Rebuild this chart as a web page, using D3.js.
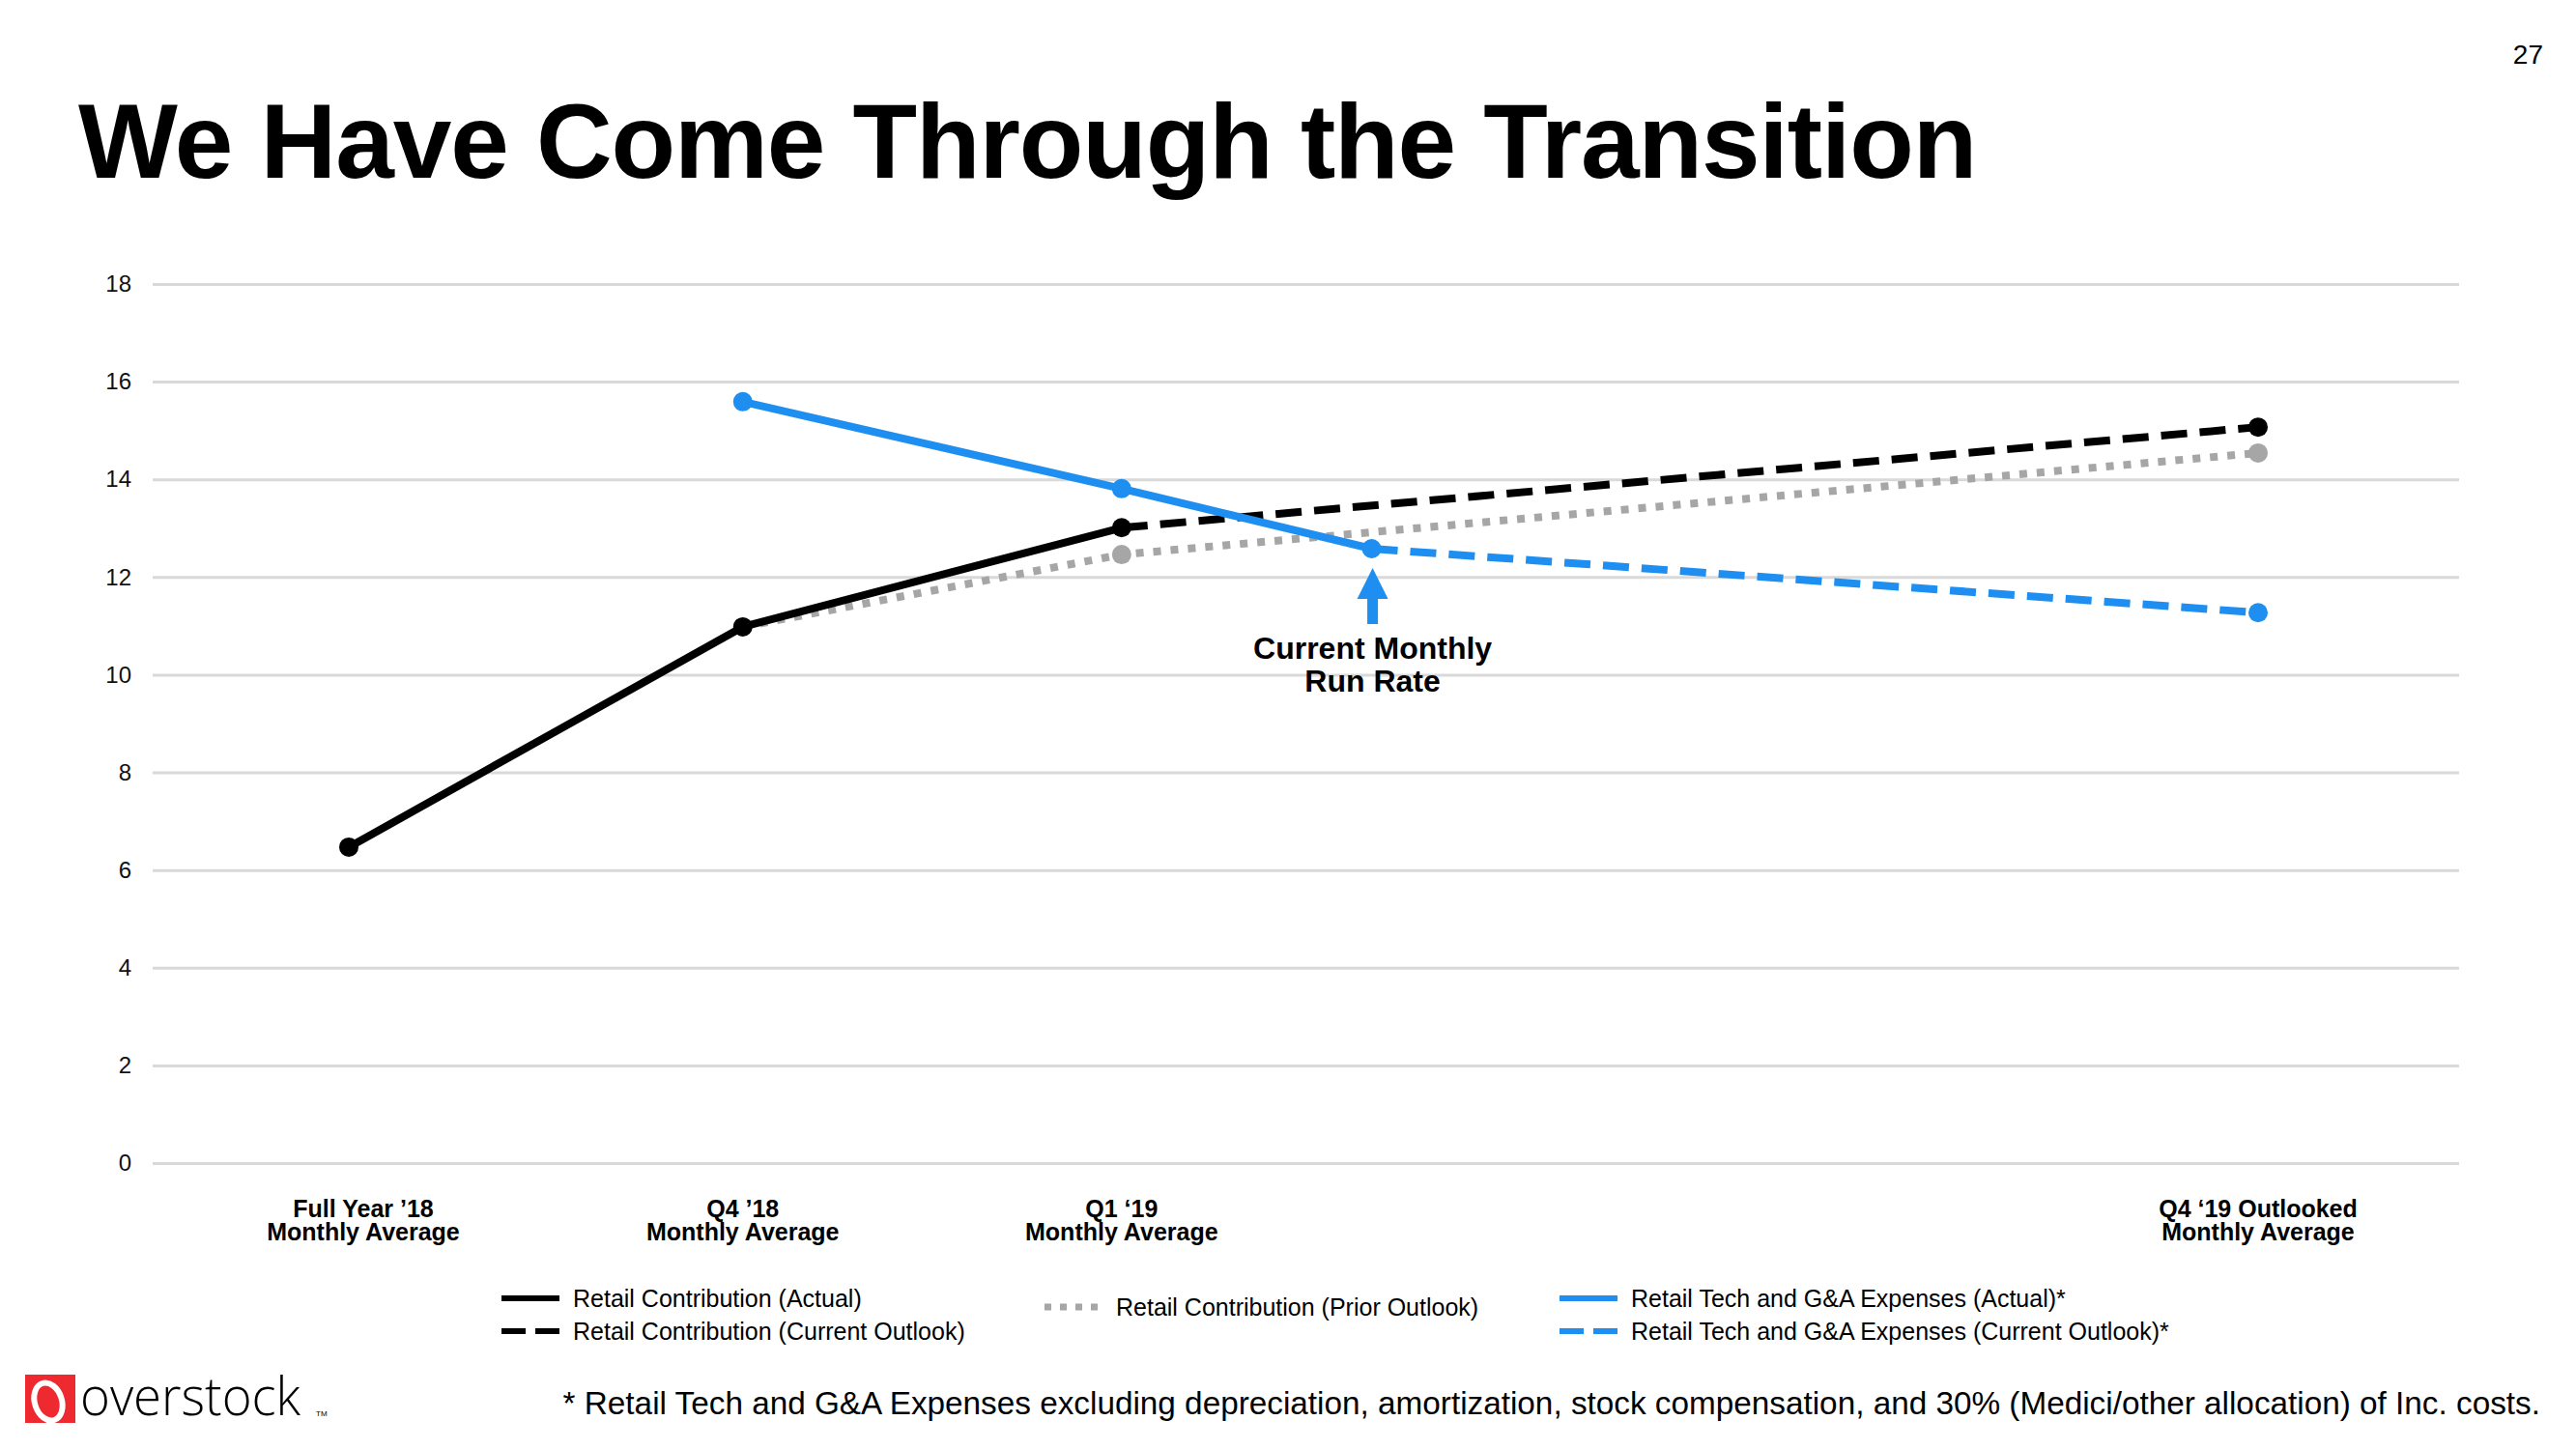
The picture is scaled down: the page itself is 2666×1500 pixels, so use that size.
<!DOCTYPE html>
<html>
<head>
<meta charset="utf-8">
<script src="https://cdn.jsdelivr.net/npm/d3@7"></script>
<style>
  html, body { margin: 0; padding: 0; background: #fff; }
  svg { display: block; font-family: "Liberation Sans", Arial, sans-serif; }
</style>
</head>
<body>
<script>
// ---- data ----
const periodKeys = ["FY18", "Q418", "Q119", "RR", "Q419"];
const periodPos  = [0, 1.04, 2.04, 2.70, 5.04];          // position along the time axis (quarters)
const categoryKeys = ["FY18", "Q418", "Q119", "Q419"];
const categoryLine1 = ["Full Year \u201918", "Q4 \u201918", "Q1 \u201819", "Q4 \u201819 Outlooked"];
const categoryLine2 = ["Monthly Average", "Monthly Average", "Monthly Average", "Monthly Average"];
const yTicks = [0, 2, 4, 6, 8, 10, 12, 14, 16, 18];

const contribActualKeys = ["FY18", "Q418", "Q119"];
const contribActualVals = [6.47, 10.98, 13.01];
const contribCurrentKeys = ["Q119", "Q419"];
const contribCurrentVals = [13.01, 15.07];
const contribPriorKeys = ["Q418", "Q119", "Q419"];
const contribPriorVals = [10.98, 12.46, 14.54];
const techActualKeys = ["Q418", "Q119", "RR"];
const techActualVals = [15.59, 13.81, 12.58];
const techCurrentKeys = ["RR", "Q419"];
const techCurrentVals = [12.58, 11.27];

const legendLabels = [
  "Retail Contribution (Actual)",
  "Retail Contribution (Current Outlook)",
  "Retail Contribution (Prior Outlook)",
  "Retail Tech and G&A Expenses (Actual)*",
  "Retail Tech and G&A Expenses (Current Outlook)*"
];

// ---- setup ----
const W = 2666, H = 1500;
const BLUE = "#1e8ff0", GRAY = "#a6a6a6", BLACK = "#000";
const svg = d3.select("body").append("svg").attr("width", W).attr("height", H);

const posOf = k => periodPos[periodKeys.indexOf(k)];
const x = d3.scaleLinear().domain([0, 5.04]).range([361, 2337]);
const y = d3.scaleLinear().domain([0, 18]).range([1204, 294]);
const gridLeft = 158, gridRight = 2545;

// title + page number
svg.append("text").attr("x", 81).attr("y", 184)
  .attr("font-size", 109).attr("font-weight", "bold").attr("fill", "#000")
  .attr("letter-spacing", -1.1)
  .text("We Have Come Through the Transition");
svg.append("text").attr("x", 2632).attr("y", 66).attr("text-anchor", "end")
  .attr("font-size", 28).attr("fill", "#000").text("27");

// y axis with gridlines
const yAxis = svg.append("g").attr("transform", `translate(${gridLeft},0)`)
  .call(d3.axisLeft(y).tickValues(yTicks).tickSize(-(gridRight - gridLeft)).tickPadding(22).tickFormat(d3.format("d")));
yAxis.select(".domain").remove();
yAxis.selectAll(".tick line").attr("stroke", "#d9d9d9").attr("stroke-width", 3);
yAxis.selectAll(".tick text").attr("font-size", 24).attr("fill", "#111")
  .attr("font-family", "Liberation Sans, Arial, sans-serif");

// x category labels
const xl = svg.append("g");
categoryKeys.forEach((k, i) => {
  const t = xl.append("text").attr("text-anchor", "middle").attr("font-size", 25)
    .attr("font-weight", "bold").attr("fill", "#000");
  t.append("tspan").attr("x", x(posOf(k)) + (i === 0 ? 15 : 0)).attr("y", 1260).text(categoryLine1[i]);
  t.append("tspan").attr("x", x(posOf(k)) + (i === 0 ? 15 : 0)).attr("y", 1284).text(categoryLine2[i]);
});

// series helper
function series(keys, vals) { return keys.map((k, i) => ({ k, v: vals[i] })); }
const line = d3.line().x(d => x(posOf(d.k))).y(d => y(d.v));

const sPrior = series(contribPriorKeys, contribPriorVals);
const sCAct = series(contribActualKeys, contribActualVals);
const sCCur = series(contribCurrentKeys, contribCurrentVals);
const sTAct = series(techActualKeys, techActualVals);
const sTCur = series(techCurrentKeys, techCurrentVals);

const plot = svg.append("g");
// prior outlook (gray dotted)
plot.append("path").datum(sPrior).attr("d", line).attr("fill", "none")
  .attr("stroke", GRAY).attr("stroke-width", 8).attr("stroke-dasharray", "8,10");
plot.selectAll(".pp").data(sPrior.slice(1)).join("circle")
  .attr("cx", d => x(posOf(d.k))).attr("cy", d => y(d.v)).attr("r", 10).attr("fill", GRAY);

// retail contribution current outlook (black dashed)
plot.append("path").datum(sCCur).attr("d", line).attr("fill", "none")
  .attr("stroke", BLACK).attr("stroke-width", 8).attr("stroke-dasharray", "27,13");
// retail contribution actual
plot.append("path").datum(sCAct).attr("d", line).attr("fill", "none")
  .attr("stroke", BLACK).attr("stroke-width", 8).attr("stroke-linejoin", "round");
plot.selectAll(".cp").data(sCAct.concat(sCCur.slice(1))).join("circle")
  .attr("cx", d => x(posOf(d.k))).attr("cy", d => y(d.v)).attr("r", 10).attr("fill", BLACK);

// tech current outlook (blue dashed)
plot.append("path").datum(sTCur).attr("d", line).attr("fill", "none")
  .attr("stroke", BLUE).attr("stroke-width", 8).attr("stroke-dasharray", "27,13");
// tech actual
plot.append("path").datum(sTAct).attr("d", line).attr("fill", "none")
  .attr("stroke", BLUE).attr("stroke-width", 8).attr("stroke-linejoin", "round");
plot.selectAll(".tp").data(sTAct.concat(sTCur.slice(1))).join("circle")
  .attr("cx", d => x(posOf(d.k))).attr("cy", d => y(d.v)).attr("r", 10).attr("fill", BLUE);

// annotation arrow
const ax = x(posOf("RR")) + 1;
const arrowTop = y(techCurrentVals[0]) + 20;
plot.append("rect").attr("x", ax - 5.5).attr("y", arrowTop + 30).attr("width", 11).attr("height", 28).attr("fill", BLUE);
plot.append("path").attr("d", `M${ax},${arrowTop} L${ax + 16},${arrowTop + 32} L${ax - 16},${arrowTop + 32} Z`).attr("fill", BLUE);
plot.append("text").attr("text-anchor", "middle").attr("font-size", 32)
  .attr("font-weight", "bold").attr("fill", "#000")
  .attr("x", ax).attr("y", 682).text("Current Monthly");
plot.append("text").attr("text-anchor", "middle").attr("font-size", 32)
  .attr("font-weight", "bold").attr("fill", "#000")
  .attr("x", ax).attr("y", 716).text("Run Rate");

// legend
const lg = svg.append("g").attr("font-size", 25).attr("fill", "#000");
const legendItems = [
  { x: 519, y: 1344, stroke: BLACK, dash: null, w: 6, label: legendLabels[0] },
  { x: 519, y: 1378, stroke: BLACK, dash: "25,10", w: 6, label: legendLabels[1] },
  { x: 1081, y: 1353, stroke: GRAY, dash: "7,9", w: 7, label: legendLabels[2] },
  { x: 1614, y: 1344, stroke: BLUE, dash: null, w: 6, label: legendLabels[3] },
  { x: 1614, y: 1378, stroke: BLUE, dash: "25,10", w: 6, label: legendLabels[4] }
];
legendItems.forEach(it => {
  const l = lg.append("line").attr("x1", it.x).attr("x2", it.x + 60).attr("y1", it.y).attr("y2", it.y)
    .attr("stroke", it.stroke).attr("stroke-width", it.w);
  if (it.dash) l.attr("stroke-dasharray", it.dash);
  lg.append("text").attr("x", it.x + 74).attr("y", it.y + 9).text(it.label);
});

// footnote
svg.append("text").attr("x", 2629).attr("y", 1464).attr("text-anchor", "end")
  .attr("font-size", 33.3).attr("fill", "#000")
  .text("* Retail Tech and G&A Expenses excluding depreciation, amortization, stock compensation, and 30% (Medici/other allocation) of Inc. costs.");

// logo
const logo = svg.append("g");
logo.append("rect").attr("x", 26).attr("y", 1423).attr("width", 52).attr("height", 50).attr("fill", "#ee2a30");
logo.append("ellipse").attr("cx", 50).attr("cy", 1451).attr("rx", 14).attr("ry", 20)
  .attr("transform", "rotate(-18,50,1451)")
  .attr("fill", "none").attr("stroke", "#fff").attr("stroke-width", 6);
logo.append("text").attr("x", 83).attr("y", 1465).attr("font-size", 56)
  .attr("font-family", "Open Sans, Liberation Sans, sans-serif").attr("font-weight", 300)
  .attr("textLength", 228).attr("lengthAdjust", "spacingAndGlyphs").attr("fill", "#000").text("overstock");
logo.append("text").attr("x", 327).attr("y", 1466).attr("font-size", 8).attr("fill", "#000").text("TM");
</script>
</body>
</html>
